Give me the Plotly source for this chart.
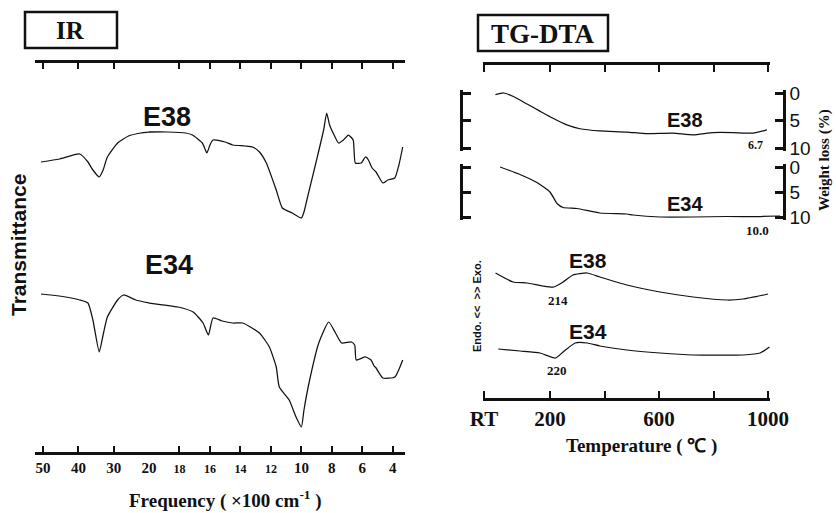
import plotly.graph_objects as go
import numpy as np

W, H = 836, 513

# ---------------- DATA ----------------
# IR spectra: frequency in units of 100 cm-1, transmittance in arbitrary units
ir_freq_e38 = [50.6, 45.4, 39.6, 37.3, 35.9, 34.1, 33.0, 31.8, 28.9, 25.8, 22.3, 20.0, 18.8, 17.6, 17.15,
               16.5, 16.2, 16.0, 15.8, 15.0, 14.5, 13.7, 13.2, 12.75, 12.3, 11.65, 11.25, 10.6, 10.0, 9.83,
               9.64, 9.05, 8.54, 8.34, 8.15, 7.95, 7.56, 7.24, 6.92, 6.6, 6.46, 6.07, 5.8, 5.6, 5.36, 5.1,
               4.65, 4.33, 3.87, 3.6, 3.35]
ir_trans_e38 = [292, 295, 300, 292, 284, 277, 284, 297, 311, 318, 321, 322, 322, 321, 319,
                311, 301, 309, 314, 312, 309, 308, 307, 302, 291, 264, 246, 241, 236, 242,
                254, 291, 324, 341, 329, 322, 311, 314, 319, 314, 291, 291, 297, 294, 286, 282,
                271, 274, 276, 289, 307]
ir_freq_e34 = [50.6, 45.4, 39.6, 37.3, 35.9, 34.1, 33.0, 31.8, 28.9, 27.2, 23.75, 20.0, 18.1, 17.1, 16.45,
               16.1, 15.8, 15.2, 14.5, 13.85, 12.75, 12.1, 11.65, 11.45, 10.8, 10.35, 10.0, 9.83, 9.5,
               8.86, 8.21, 7.76, 7.37, 6.72, 6.5, 6.4, 5.8, 5.43, 5.23, 5.1, 4.65, 3.87, 3.35]
ir_trans_e34 = [160, 158, 154, 151, 134, 102, 119, 137, 154, 159, 154, 151, 147, 142, 131,
                119, 136, 133, 131, 131, 121, 107, 87, 67, 54, 37, 27, 44, 71,
                111, 132, 121, 111, 112, 109, 94, 97, 94, 88, 86, 76, 77, 94]
ir_ticks_hi = [50, 40, 30, 20]
ir_ticks_lo = [18, 16, 14, 12, 10, 8, 6, 4]

# TG: weight loss (%) vs temperature (deg C)
tg_temp_e38 = [0, 30, 64, 116, 163, 211, 262, 310, 383, 482, 556, 651, 725, 798, 872, 945, 996]
tg_loss_e38 = [0.3, 0.0, 0.6, 2.0, 3.3, 4.6, 5.8, 6.5, 6.9, 7.1, 7.4, 7.3, 7.6, 7.2, 7.2, 7.3, 6.7]
tg_temp_e34 = [17, 90, 152, 200, 226, 248, 299, 383, 482, 505, 604, 725, 850, 971, 1044]
tg_loss_e34 = [0.0, 1.5, 3.1, 5.0, 7.3, 8.1, 8.3, 9.2, 9.4, 9.6, 10.0, 10.0, 9.9, 9.9, 9.8]
tg_ticks = [0, 5, 10]
tg_final = ["6.7", "10.0"]

# DTA: signal (arbitrary units) vs temperature
dta_temp_e38 = [0, 64, 116, 174, 214, 248, 284, 336, 383, 482, 604, 725, 850, 908, 1000]
dta_sig_e38 = [125, 116, 115, 112, 111, 116, 123, 125, 121, 113, 106, 101, 98, 99, 104]
dta_temp_e34 = [10, 90, 163, 220, 248, 292, 336, 383, 482, 604, 725, 908, 971, 1005]
dta_sig_e34 = [49, 47, 45, 40, 46, 55, 55, 52, 48, 45, 43, 43, 45, 51]
dta_peaks = ["214", "220"]

temp_tickvals = [-42, 200, 600, 1000]
temp_ticktext = ["RT", "200", "600", "1000"]
temp_minor = [400, 800]

# ---------------- HELPERS ----------------
def px(x):
    return x / W

def py(y):
    return 1 - y / H

INK = "#111111"
SERIF = "Liberation Serif, Times New Roman, serif"
SANS = "Liberation Sans, Arial, sans-serif"

fig = go.Figure()
line = dict(color=INK, width=1.25, shape="spline", smoothing=0.5)

# IR traces, split at 2000 cm-1 (scale change)
for f, t in [(ir_freq_e38, ir_trans_e38), (ir_freq_e34, ir_trans_e34)]:
    f = np.array(f); t = np.array(t)
    hi = f >= 20
    lo = f <= 20
    fig.add_trace(go.Scatter(x=f[hi], y=t[hi], mode="lines", line=line, xaxis="x", yaxis="y"))
    fig.add_trace(go.Scatter(x=f[lo], y=t[lo], mode="lines", line=line, xaxis="x2", yaxis="y"))

# DTA
fig.add_trace(go.Scatter(x=dta_temp_e38, y=dta_sig_e38, mode="lines", line=line, xaxis="x3", yaxis="y3"))
fig.add_trace(go.Scatter(x=dta_temp_e34, y=dta_sig_e34, mode="lines", line=line, xaxis="x3", yaxis="y3"))
# TG
fig.add_trace(go.Scatter(x=tg_temp_e38, y=tg_loss_e38, mode="lines", line=line, xaxis="x4", yaxis="y4"))
fig.add_trace(go.Scatter(x=tg_temp_e34, y=tg_loss_e34, mode="lines", line=line, xaxis="x5", yaxis="y5"))

ir_tickfont = dict(family=SERIF, size=15, color=INK, weight="bold")
common_x = dict(showline=True, linewidth=2.5, linecolor=INK, mirror="ticks", ticks="inside",
                tickcolor=INK, tickwidth=2.2, showgrid=False, zeroline=False, automargin=False)
tg_y = dict(side="right", showline=True, linewidth=2.5, linecolor=INK, mirror="ticks", ticks="inside",
            ticklen=8, tickwidth=2.5, tickcolor=INK, tickvals=tg_ticks, range=[10.6, -0.6],
            tickfont=dict(family=SANS, size=19, color=INK), showgrid=False, zeroline=False,
            automargin=False)

fig.update_layout(
    width=W, height=H, margin=dict(l=0, r=0, t=0, b=0, autoexpand=False),
    paper_bgcolor="white", plot_bgcolor="rgba(0,0,0,0)",
    showlegend=False, hovermode=False,
    xaxis=dict(domain=[px(35), px(149)], range=[52.3, 20], anchor="y",
               tickvals=ir_ticks_hi, ticktext=[str(v) for v in ir_ticks_hi],
               ticklen=6, tickfont=ir_tickfont, **common_x),
    xaxis2=dict(domain=[px(149), px(405)], range=[20, 3.2], anchor="y",
                tickvals=ir_ticks_lo,
                ticktext=[("<span style='font-size:12px'>%d</span>" % v) if v in (18, 16, 14, 12) else str(v)
                          for v in ir_ticks_lo],
                ticklen=6, tickfont=ir_tickfont, **common_x),
    yaxis=dict(domain=[py(452), py(63)], range=[2, 391], visible=False, automargin=False),
    xaxis3=dict(domain=[px(483), px(770)], range=[-46, 1007], anchor="y3",
                tickvals=temp_tickvals, ticktext=temp_ticktext, ticklen=7,
                minor=dict(tickvals=temp_minor, ticks="inside", ticklen=7, tickwidth=2.2,
                           tickcolor=INK, showgrid=False),
                tickfont=dict(family=SERIF, size=21, color=INK, weight="bold"), **common_x),
    yaxis3=dict(domain=[py(398), py(65)], range=[0, 333], visible=False, automargin=False),
    xaxis4=dict(domain=[px(463), px(783)], range=[-119, 1055], anchor="y4", visible=False, automargin=False),
    yaxis4=dict(domain=[py(151.3), py(89.7)], anchor="x4", **tg_y),
    xaxis5=dict(domain=[px(463), px(783)], range=[-119, 1055], anchor="y5", visible=False, automargin=False),
    yaxis5=dict(domain=[py(220), py(164)], anchor="x5", **tg_y),
)

def ann(text, x, y, size, family=SERIF, bold=True, angle=0):
    fig.add_annotation(text=text, x=px(x), y=py(y), xref="paper", yref="paper",
                       showarrow=False, textangle=angle, xanchor="center", yanchor="middle",
                       font=dict(family=family, size=size, color=INK, weight="bold" if bold else "normal"))

# boxes
for x0, y0, x1, y1 in [(25, 12, 117, 48), (478, 15, 608, 51)]:
    fig.add_shape(type="rect", xref="paper", yref="paper", x0=px(x0), x1=px(x1), y0=py(y1), y1=py(y0),
                  line=dict(color=INK, width=2.5))
ann("IR", 70, 31, 25)
ann("TG-DTA", 543, 34, 27)

ann("Transmittance", 18, 245, 21, family=SANS, angle=-90)
ann("Frequency ( ×100 cm<sup>-1</sup> )", 225, 499, 19)
ann("E38", 167, 117, 27, family=SANS)
ann("E34", 169, 265, 27, family=SANS)

ann("E38", 685, 120, 20, family=SANS)
ann("E34", 685, 204, 20, family=SANS)
ann(tg_final[0], 755, 145, 12)
ann(tg_final[1], 757, 230, 13)
ann("E38", 588, 260, 21, family=SANS)
ann("E34", 588, 331, 21, family=SANS)
ann(dta_peaks[0], 558, 300, 13)
ann(dta_peaks[1], 557, 370, 13)
ann("Temperature ( ℃ )", 641, 446, 19)
ann("Weight loss (%)", 824, 160, 15, angle=-90)
ann("Endo. &lt;&lt;  &gt;&gt; Exo.", 477, 306, 11, family=SANS, angle=-90)

fig.write_html("out.html", config={"displayModeBar": False})
